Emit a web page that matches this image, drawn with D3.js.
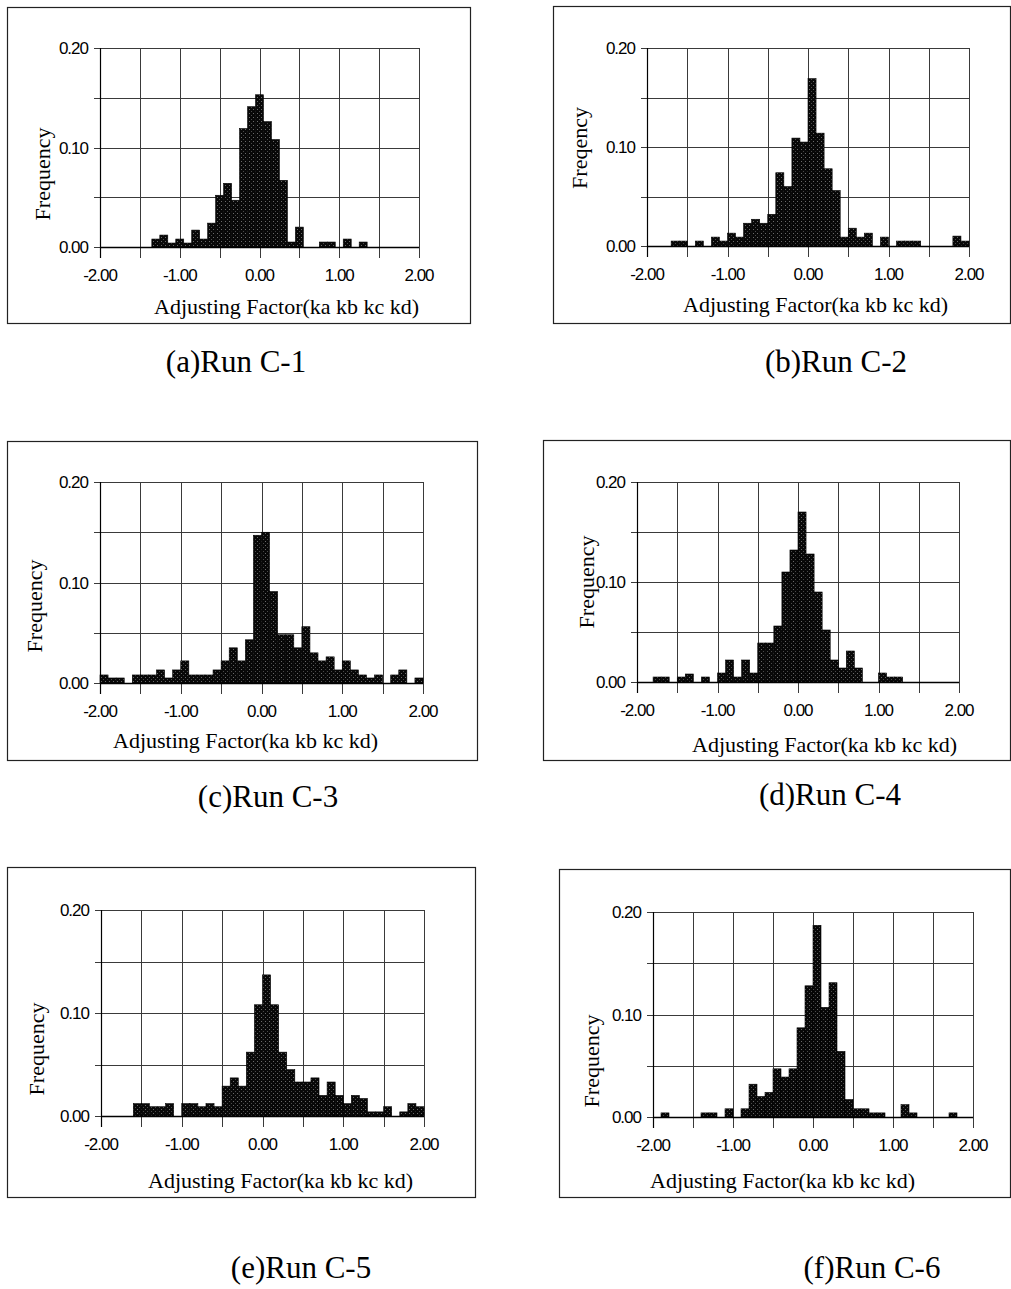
<!DOCTYPE html>
<html>
<head>
<meta charset="utf-8">
<script src="https://cdn.jsdelivr.net/npm/d3@7"></script>
<style>
  html, body { margin: 0; padding: 0; background: #fff; }
  svg { display: block; }
</style>
</head>
<body>
<svg id="chart" width="1011" height="1289"></svg>
<script>
// ---------------- DATA ----------------
const binWidth = 0.1;
// left edge of the first bin in each panel
const binStarts = [-1.95, -2, -2, -2, -2, -2];

const freqC1 = [0,0,0,0,0,0,0.008,0.012,0.004,0.008,0.004,0.017,0.008,0.024,0.052,0.064,0.047,0.119,0.141,0.153,
                0.126,0.108,0.067,0.005,0.020,0,0,0.005,0.005,0,0.008,0,0.005,0,0,0,0,0,0,0];
const freqC2 = [0,0,0,0.005,0.005,0,0.005,0,0.009,0.005,0.013,0.009,0.023,0.027,0.023,0.032,0.074,0.060,0.109,0.105,
                0.169,0.114,0.078,0.056,0.009,0.018,0.009,0.013,0,0.009,0,0.005,0.005,0.005,0,0,0,0,0.010,0.005];
const freqC3 = [0.008,0.005,0.005,0,0.008,0.008,0.008,0.013,0.005,0.013,0.022,0.008,0.008,0.008,0.013,0.022,0.035,0.022,0.043,0.147,
                0.150,0.091,0.048,0.048,0.035,0.056,0.030,0.022,0.026,0.013,0.022,0.013,0.008,0.005,0.008,0,0.008,0.013,0,0.005];
const freqC4 = [0,0,0.005,0.005,0,0.005,0.008,0,0.005,0,0.009,0.022,0.005,0.022,0.009,0.039,0.039,0.056,0.110,0.132,
                0.170,0.128,0.090,0.052,0.022,0.014,0.031,0.014,0,0,0.009,0.005,0.005,0,0,0,0,0,0,0];
const freqC5 = [0,0,0,0,0.012,0.012,0.009,0.009,0.012,0,0.012,0.012,0.009,0.012,0.009,0.029,0.037,0.029,0.062,0.108,
                0.137,0.108,0.062,0.045,0.033,0.033,0.037,0.020,0.033,0.020,0.012,0.020,0.017,0.004,0.004,0.009,0,0.004,0.012,0.009];
const freqC6 = [0,0.004,0,0,0,0,0.004,0.004,0,0.008,0,0.008,0.032,0.020,0.024,0.047,0.039,0.047,0.087,0.128,
                0.187,0.107,0.131,0.064,0.017,0.008,0.008,0.004,0.004,0,0,0.012,0.004,0,0,0,0,0.004,0,0];
const seriesList = [freqC1, freqC2, freqC3, freqC4, freqC5, freqC6];

const captions = ["(a)Run C-1", "(b)Run C-2", "(c)Run C-3", "(d)Run C-4", "(e)Run C-5", "(f)Run C-6"];
const yTitles = ["Frequency", "Freqency", "Frequency", "Frequency", "Frequency", "Frequency"];
const xTitle = "Adjusting Factor(ka kb kc kd)";
const xDomain = [-2, 2];
const yDomain = [0, 0.20];
const xLabelValues = [-2, -1, 0, 1, 2];
const xGridValues = [-2, -1.5, -1, -0.5, 0, 0.5, 1, 1.5, 2];
const yLabelValues = [0, 0.10, 0.20];
const yGridValues = [0, 0.05, 0.10, 0.15, 0.20];

// ---------------- LAYOUT ----------------
const layout = [
  {frame:[7,7,470,323],    plot:[100,48,419,247],   yt:[43,174],   xt:[154,314],  cap:[236,372]},
  {frame:[553,6,1010,323], plot:[647,48,969,246],   yt:[580,148],  xt:[683,312],  cap:[836,372]},
  {frame:[7,441,477,760],  plot:[100,482,423,683],  yt:[35,606],   xt:[113,748],  cap:[268,807]},
  {frame:[543,440,1010,760], plot:[637,482,959,682], yt:[587,582], xt:[692,752],  cap:[830,805]},
  {frame:[7,867,475,1197], plot:[101,910,424,1116], yt:[37,1049],  xt:[148,1188], cap:[301,1278]},
  {frame:[559,869,1010,1197], plot:[653,912,973,1117], yt:[592,1061], xt:[650,1188], cap:[872,1278]}
];

const svg = d3.select("#chart");
svg.append("rect").attr("width", 1011).attr("height", 1289).attr("fill", "#fff");

const defs = svg.append("defs");
const pat = defs.append("pattern").attr("id", "stip").attr("patternUnits", "userSpaceOnUse")
  .attr("width", 4).attr("height", 4);
pat.append("rect").attr("width", 4).attr("height", 4).attr("fill", "#080808");
pat.append("rect").attr("x", 1).attr("y", 1).attr("width", 1).attr("height", 1).attr("fill", "#6a6a6a");
pat.append("rect").attr("x", 3).attr("y", 3).attr("width", 1).attr("height", 1).attr("fill", "#4a4a4a");

const sans = "'Liberation Sans', Arial, sans-serif";
const serif = "'Liberation Serif', 'Times New Roman', serif";
const fmt = d3.formatLocale({decimal: ".", thousands: ",", grouping: [3], currency: ["", ""], minus: "-"}).format(".2f");

seriesList.forEach((values, p) => {
  const L = layout[p];
  const g = svg.append("g");
  const [fx0, fy0, fx1, fy1] = L.frame;
  g.append("rect").attr("x", fx0 + 0.5).attr("y", fy0 + 0.5)
    .attr("width", fx1 - fx0).attr("height", fy1 - fy0)
    .attr("fill", "none").attr("stroke", "#222").attr("stroke-width", 1.2);

  const [px0, py0, px1, py1] = L.plot;
  const x = d3.scaleLinear().domain(xDomain).range([px0, px1]);
  const y = d3.scaleLinear().domain(yDomain).range([py1, py0]);

  g.append("g").selectAll("line").data(yGridValues).join("line")
    .attr("x1", px0 - 6).attr("x2", px1)
    .attr("y1", d => Math.round(y(d)) + 0.5).attr("y2", d => Math.round(y(d)) + 0.5)
    .attr("stroke", "#3a3a3a").attr("stroke-width", 1);
  g.append("g").selectAll("line").data(xGridValues).join("line")
    .attr("x1", d => Math.round(x(d)) + 0.5).attr("x2", d => Math.round(x(d)) + 0.5)
    .attr("y1", py0).attr("y2", py1 + 11)
    .attr("stroke", "#3a3a3a").attr("stroke-width", 1);

  const bins = values.map((v, i) => ({x0: binStarts[p] + i * binWidth, x1: binStarts[p] + (i + 1) * binWidth, v}))
    .filter(b => b.v > 0 && b.x0 < xDomain[1] - 1e-9);
  g.append("g").selectAll("rect").data(bins).join("rect")
    .attr("x", d => x(d.x0))
    .attr("width", d => x(Math.min(d.x1, xDomain[1])) - x(d.x0))
    .attr("y", d => y(d.v))
    .attr("height", d => y(0) - y(d.v))
    .attr("fill", "url(#stip)")
    .attr("stroke", "#000").attr("stroke-width", 0.6);

  g.append("line").attr("x1", px0).attr("x2", px1).attr("y1", Math.round(y(0)) + 0.5).attr("y2", Math.round(y(0)) + 0.5)
    .attr("stroke", "#000").attr("stroke-width", 1.3);
  g.append("line").attr("x1", Math.round(x(-2)) + 0.5).attr("x2", Math.round(x(-2)) + 0.5).attr("y1", py0).attr("y2", py1 + 11)
    .attr("stroke", "#000").attr("stroke-width", 1.2);

  g.append("g").selectAll("text").data(yLabelValues).join("text")
    .attr("x", px0 - 12).attr("y", d => y(d) + 6)
    .attr("text-anchor", "end").attr("font-family", sans).attr("font-size", 17)
    .attr("letter-spacing", "-1").attr("fill", "#000")
    .text(d => fmt(d));
  g.append("g").selectAll("text").data(xLabelValues).join("text")
    .attr("x", d => x(d)).attr("y", py1 + 34)
    .attr("text-anchor", "middle").attr("font-family", sans).attr("font-size", 17)
    .attr("letter-spacing", "-1").attr("fill", "#000")
    .text(d => fmt(d));

  g.append("text").attr("transform", `translate(${L.yt[0] + 7},${L.yt[1]}) rotate(-90)`)
    .attr("text-anchor", "middle").attr("font-family", serif).attr("font-size", 22).attr("fill", "#000")
    .text(yTitles[p]);
  g.append("text").attr("x", L.xt[0]).attr("y", L.xt[1])
    .attr("font-family", serif).attr("font-size", 22).attr("fill", "#000")
    .text(xTitle);

  svg.append("text").attr("x", L.cap[0]).attr("y", L.cap[1])
    .attr("text-anchor", "middle").attr("font-family", serif).attr("font-size", 31).attr("fill", "#000")
    .text(captions[p]);
});
</script>
</body>
</html>
